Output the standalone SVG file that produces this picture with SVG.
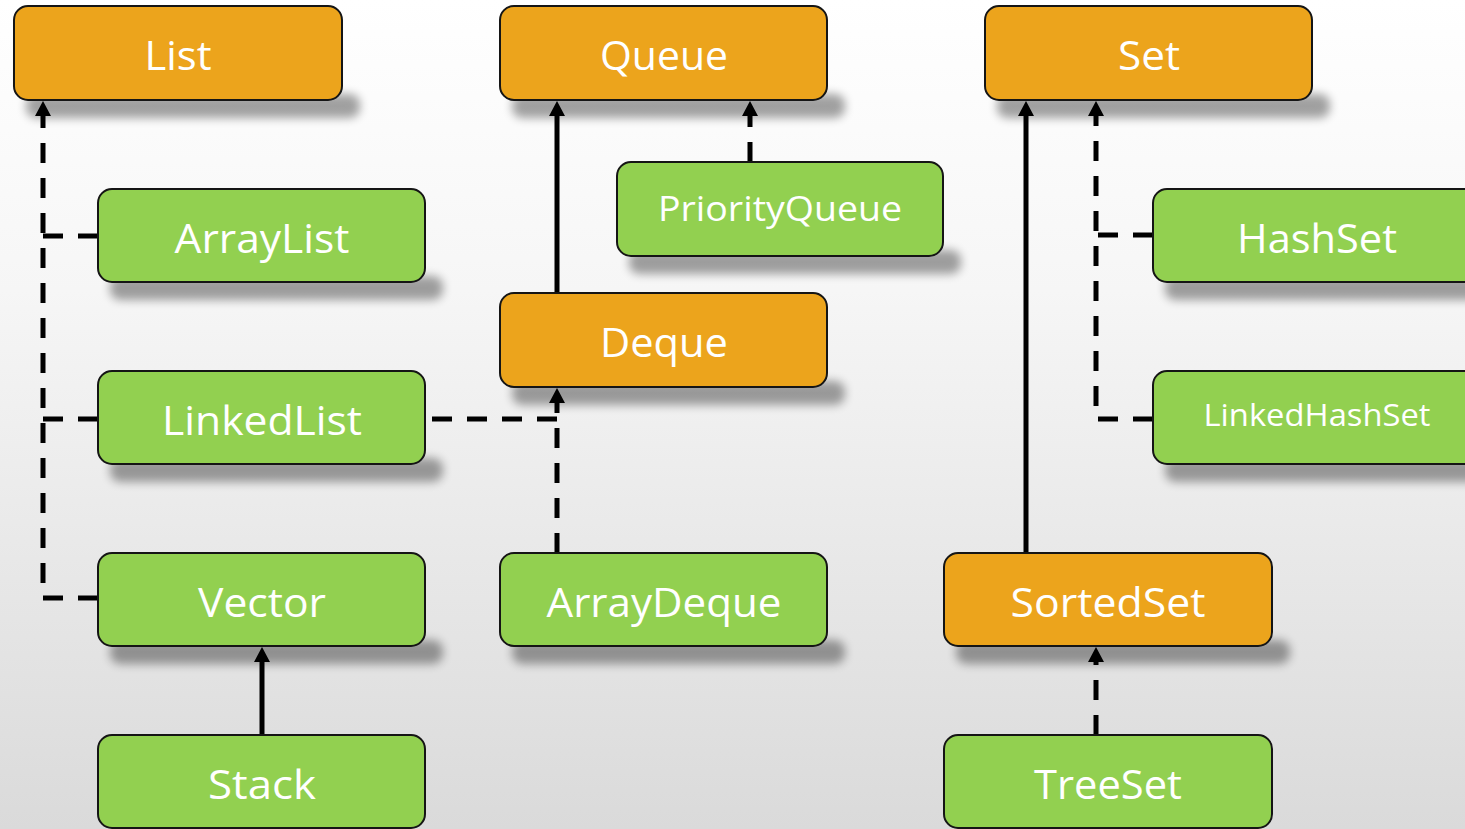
<svg xmlns="http://www.w3.org/2000/svg" width="1465" height="829" viewBox="0 0 1465 829">
  <defs>
    <linearGradient id="bg" x1="0" y1="0" x2="0" y2="1">
      <stop offset="0" stop-color="#ffffff"/>
      <stop offset="0.35" stop-color="#f6f6f6"/>
      <stop offset="1" stop-color="#dadada"/>
    </linearGradient>
    <filter id="soft" x="-10%" y="-100%" width="120%" height="300%">
      <feGaussianBlur stdDeviation="5"/>
    </filter>
    <!-- arrowhead: the path stops at the base, the triangle carries on to the box edge -->
    <marker id="tip" viewBox="0 0 15 16" refX="0" refY="8" markerWidth="15" markerHeight="16" markerUnits="userSpaceOnUse" orient="auto">
      <path d="M0,0 L15,8 L0,16 Z" fill="#000"/>
    </marker>
    <style>
      .shadow { fill: #000; opacity: 0.36; filter: url(#soft); }
      .box { stroke: #151515; stroke-width: 2; }
      .iface { fill: #eca41c; }
      .impl { fill: #92d050; }
      .label { fill: #ffffff; font-family: "Open Sans", "Liberation Sans", sans-serif; font-size: 41px; text-anchor: middle; }
      .small { font-size: 35px; }
      .smaller { font-size: 31px; }
      .link { fill: none; stroke: #000; stroke-width: 5; }
      .dash { stroke-dasharray: 20 15; }
    </style>
  </defs>

  <rect x="0" y="0" width="1465" height="829" fill="url(#bg)"/>

  <!-- flattened drop shadows under every box -->
  <g id="shadows">
    <rect class="shadow" x="26" y="94" width="334" height="24" rx="10"/>
    <rect class="shadow" x="512" y="94" width="333" height="24" rx="10"/>
    <rect class="shadow" x="997" y="94" width="333" height="24" rx="10"/>
    <rect class="shadow" x="110" y="276" width="333" height="24" rx="10"/>
    <rect class="shadow" x="629" y="250" width="332" height="24" rx="10"/>
    <rect class="shadow" x="1165" y="276" width="333" height="24" rx="10"/>
    <rect class="shadow" x="512" y="381" width="333" height="24" rx="10"/>
    <rect class="shadow" x="110" y="458" width="333" height="24" rx="10"/>
    <rect class="shadow" x="1165" y="458" width="333" height="24" rx="10"/>
    <rect class="shadow" x="110" y="640" width="333" height="24" rx="10"/>
    <rect class="shadow" x="512" y="640" width="333" height="24" rx="10"/>
    <rect class="shadow" x="956" y="640" width="334" height="24" rx="10"/>
  </g>

  <!-- connectors -->
  <g id="connectors">
    <path class="link dash" d="M98,598 H43 V116" marker-end="url(#tip)"/>
    <path class="link dash" d="M98,236 H43"/>
    <path class="link dash" d="M98,419 H43"/>
    <path class="link" d="M557,293 V116" marker-end="url(#tip)"/>
    <path class="link dash" d="M750,162 V116" marker-end="url(#tip)"/>
    <path class="link dash" d="M557,553 V403" marker-end="url(#tip)"/>
    <path class="link dash" d="M557,419 H427"/>
    <path class="link" d="M1026,553 V116" marker-end="url(#tip)"/>
    <path class="link dash" d="M1153,419 H1096 V116" marker-end="url(#tip)"/>
    <path class="link dash" d="M1153,235 H1096"/>
    <path class="link" d="M262,735 V662" marker-end="url(#tip)"/>
    <path class="link dash" d="M1096,735 V662" marker-end="url(#tip)"/>
  </g>

  <g id="List">
    <rect class="box iface" x="14" y="6" width="328" height="94" rx="14"/>
    <text class="label" x="178" y="70" textLength="67" lengthAdjust="spacingAndGlyphs">List</text>
  </g>
  <g id="Queue">
    <rect class="box iface" x="500" y="6" width="327" height="94" rx="14"/>
    <text class="label" x="664" y="70" textLength="128" lengthAdjust="spacingAndGlyphs">Queue</text>
  </g>
  <g id="Set">
    <rect class="box iface" x="985" y="6" width="327" height="94" rx="14"/>
    <text class="label" x="1149" y="70" textLength="62" lengthAdjust="spacingAndGlyphs">Set</text>
  </g>
  <g id="ArrayList">
    <rect class="box impl" x="98" y="189" width="327" height="93" rx="14"/>
    <text class="label" x="262" y="253" textLength="175" lengthAdjust="spacingAndGlyphs">ArrayList</text>
  </g>
  <g id="PriorityQueue">
    <rect class="box impl" x="617" y="162" width="326" height="94" rx="14"/>
    <text class="label small" x="780" y="221" textLength="244" lengthAdjust="spacingAndGlyphs">PriorityQueue</text>
  </g>
  <g id="HashSet">
    <rect class="box impl" x="1153" y="189" width="327" height="93" rx="14"/>
    <text class="label" x="1317" y="253" textLength="160" lengthAdjust="spacingAndGlyphs">HashSet</text>
  </g>
  <g id="Deque">
    <rect class="box iface" x="500" y="293" width="327" height="94" rx="14"/>
    <text class="label" x="664" y="357" textLength="128" lengthAdjust="spacingAndGlyphs">Deque</text>
  </g>
  <g id="LinkedList">
    <rect class="box impl" x="98" y="371" width="327" height="93" rx="14"/>
    <text class="label" x="262" y="435" textLength="200" lengthAdjust="spacingAndGlyphs">LinkedList</text>
  </g>
  <g id="LinkedHashSet">
    <rect class="box impl" x="1153" y="371" width="327" height="93" rx="14"/>
    <text class="label smaller" x="1317" y="426" textLength="227" lengthAdjust="spacingAndGlyphs">LinkedHashSet</text>
  </g>
  <g id="Vector">
    <rect class="box impl" x="98" y="553" width="327" height="93" rx="14"/>
    <text class="label" x="262" y="617" textLength="128" lengthAdjust="spacingAndGlyphs">Vector</text>
  </g>
  <g id="ArrayDeque">
    <rect class="box impl" x="500" y="553" width="327" height="93" rx="14"/>
    <text class="label" x="664" y="617" textLength="235" lengthAdjust="spacingAndGlyphs">ArrayDeque</text>
  </g>
  <g id="SortedSet">
    <rect class="box iface" x="944" y="553" width="328" height="93" rx="14"/>
    <text class="label" x="1108" y="617" textLength="195" lengthAdjust="spacingAndGlyphs">SortedSet</text>
  </g>
  <g id="Stack">
    <rect class="box impl" x="98" y="735" width="327" height="93" rx="14"/>
    <text class="label" x="262" y="799" textLength="108" lengthAdjust="spacingAndGlyphs">Stack</text>
  </g>
  <g id="TreeSet">
    <rect class="box impl" x="944" y="735" width="328" height="93" rx="14"/>
    <text class="label" x="1108" y="799" textLength="148" lengthAdjust="spacingAndGlyphs">TreeSet</text>
  </g>
</svg>
